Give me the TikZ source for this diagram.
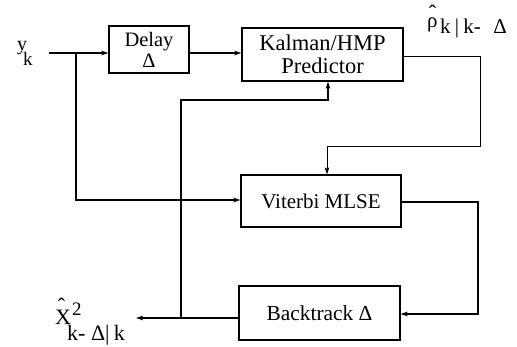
\documentclass[tikz,border=0pt]{standalone}
\usepackage{fontspec}
\setmainfont{Liberation Serif}
\usetikzlibrary{arrows.meta}
\begin{document}
\begin{tikzpicture}[x=1pt,y=-1pt,
  blk/.style={draw,line width=1.2pt,inner sep=0pt,align=center},
  wire/.style={line width=1.3pt},
  arr/.style={wire,-{Stealth[length=7pt,width=4.5pt,inset=1.5pt]}},
  lbl/.style={inner sep=0pt,anchor=base west},
  hat/.style={inner sep=0pt,anchor=base,font=\fontsize{22}{22}\selectfont}]
\useasboundingbox (0,0) rectangle (517,347);

% blocks
\node[blk,minimum width=80pt,minimum height=47pt,
  font=\fontsize{20.5}{21}\selectfont] (delay) at (149,49.5) {Delay\\Δ};
\node[blk,minimum width=161pt,minimum height=53pt,
  font=\fontsize{22.5}{23}\selectfont] (kalman) at (322.5,54.5) {Kalman/HMP\\Predictor};
\node[blk,minimum width=160pt,minimum height=52pt,
  font=\fontsize{21}{23}\selectfont] (viterbi) at (321,201) {Viterbi MLSE};
\node[blk,minimum width=161pt,minimum height=54pt,
  font=\fontsize{21.4}{23}\selectfont] (backtrack) at (319.5,313) {Backtrack Δ};

% routing points
\coordinate (yin) at (49,53);
\coordinate (jin) at (76,53);
\coordinate (vin) at (76,200);
\coordinate (kout) at (480,57);
\coordinate (kdn) at (480,147);
\coordinate (vtop) at (327,147);
\coordinate (vo) at (478,202);
\coordinate (vd) at (478,314);
\coordinate (bo) at (136,318);
\coordinate (fb) at (181,318);
\coordinate (fbu) at (181,100);
\coordinate (kin) at (328,100);

% connectors
\draw[arr] (yin) -- (yin -| delay.west);
\draw[arr] (delay.east |- yin) -- (kalman.west |- yin);
\draw[arr] (jin) -- (vin) -- (vin -| viterbi.west);
\draw[arr,line width=1pt] (kout -| kalman.east) -- (kout) -- (kdn) -- (vtop) -- (vtop |- viterbi.north);
\draw[arr] (vo -| viterbi.east) -- (vo) -- (vd) -- (vd -| backtrack.east);
\draw[arr] (bo -| backtrack.west) -- (bo);
\draw[arr] (fb) -- (fbu) -- (kin) -- (kin |- kalman.south);

% input label y_k
\node[lbl] (ylab) at (17,51) {\fontsize{20}{20}\selectfont y};
\node[lbl] (ksub) at (23,66) {\fontsize{19}{19}\selectfont k};

% predictor output label
\node[lbl] (rho) at (427,28) {\fontsize{21}{21}\selectfont ρ};
\node[hat] (rhohat) at (432.5,21) {ˆ};
\node[lbl] (rhosub) at (440,34) {\fontsize{21}{21}\selectfont k\hspace{0.2em}|\hspace{0.2em}k-\hspace{0.6em}Δ};

% decision output label
\node[lbl] (xlab) at (55,325) {\fontsize{22}{22}\selectfont X};
\node[hat] (xhat) at (61.5,314) {ˆ};
\node[lbl] (xsup) at (72,316) {\fontsize{19}{19}\selectfont 2};
\node[lbl] (xsub) at (67,341) {\fontsize{22}{22}\selectfont k-\hspace{0.25em}Δ|\hspace{0.2em}k};
\end{tikzpicture}
\end{document}
